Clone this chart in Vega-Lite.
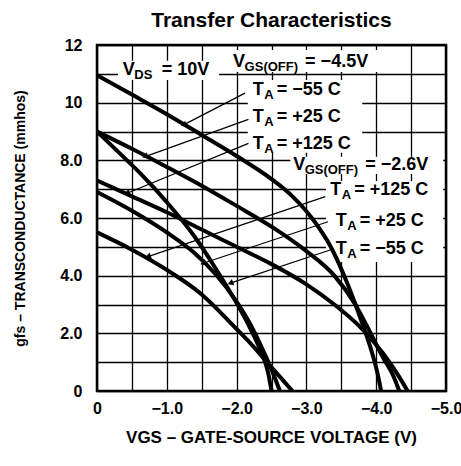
{
  "$schema": "https://vega.github.io/schema/vega-lite/v6.json",
  "autosize": "none",
  "width": 349,
  "height": 346,
  "padding": {"left": 97, "top": 45, "right": 15, "bottom": 75},
  "background": "white",
  "config": {
    "view": {"stroke": "black", "strokeWidth": 2.5},
    "font": "Liberation Sans, Arial, sans-serif"
  },
  "title": {
    "text": "Transfer Characteristics",
    "font": "Liberation Sans, Arial, sans-serif",
    "fontSize": 21,
    "fontWeight": "bold",
    "color": "black",
    "anchor": "middle",
    "frame": "group",
    "baseline": "top",
    "offset": 6
  },
  "datasets": {
    "curves": [
      {"s": "A1", "v": 0, "g": 10.95}, {"s": "A1", "v": -0.5, "g": 10.28}, {"s": "A1", "v": -1.0, "g": 9.6},
      {"s": "A1", "v": -1.5, "g": 8.88}, {"s": "A1", "v": -2.0, "g": 8.15}, {"s": "A1", "v": -2.5, "g": 7.35},
      {"s": "A1", "v": -2.8, "g": 6.75}, {"s": "A1", "v": -3.1, "g": 5.93}, {"s": "A1", "v": -3.36, "g": 4.95},
      {"s": "A1", "v": -3.6, "g": 3.65}, {"s": "A1", "v": -3.8, "g": 2.35}, {"s": "A1", "v": -3.95, "g": 1.25},
      {"s": "A1", "v": -4.02, "g": 0.6}, {"s": "A1", "v": -4.07, "g": 0},
      {"s": "A2", "v": 0, "g": 9.0}, {"s": "A2", "v": -0.5, "g": 8.4}, {"s": "A2", "v": -1.0, "g": 7.77},
      {"s": "A2", "v": -1.5, "g": 7.12}, {"s": "A2", "v": -2.0, "g": 6.42}, {"s": "A2", "v": -2.5, "g": 5.7},
      {"s": "A2", "v": -3.0, "g": 4.85}, {"s": "A2", "v": -3.4, "g": 4.0}, {"s": "A2", "v": -3.7, "g": 3.0},
      {"s": "A2", "v": -3.9, "g": 2.1}, {"s": "A2", "v": -4.1, "g": 1.15}, {"s": "A2", "v": -4.25, "g": 0.5},
      {"s": "A2", "v": -4.33, "g": 0},
      {"s": "A3", "v": 0, "g": 7.3}, {"s": "A3", "v": -0.5, "g": 6.75}, {"s": "A3", "v": -1.0, "g": 6.2},
      {"s": "A3", "v": -1.5, "g": 5.6}, {"s": "A3", "v": -2.0, "g": 5.0}, {"s": "A3", "v": -2.5, "g": 4.4},
      {"s": "A3", "v": -3.0, "g": 3.7}, {"s": "A3", "v": -3.4, "g": 3.0}, {"s": "A3", "v": -3.8, "g": 2.15},
      {"s": "A3", "v": -4.1, "g": 1.3}, {"s": "A3", "v": -4.3, "g": 0.6}, {"s": "A3", "v": -4.45, "g": 0},
      {"s": "B1", "v": 0, "g": 9.0}, {"s": "B1", "v": -0.3, "g": 8.3}, {"s": "B1", "v": -0.6, "g": 7.6},
      {"s": "B1", "v": -1.0, "g": 6.55}, {"s": "B1", "v": -1.4, "g": 5.35}, {"s": "B1", "v": -1.7, "g": 4.25},
      {"s": "B1", "v": -2.0, "g": 3.05}, {"s": "B1", "v": -2.2, "g": 2.15}, {"s": "B1", "v": -2.35, "g": 1.35},
      {"s": "B1", "v": -2.45, "g": 0.65}, {"s": "B1", "v": -2.5, "g": 0},
      {"s": "B2", "v": 0, "g": 6.9}, {"s": "B2", "v": -0.5, "g": 6.25}, {"s": "B2", "v": -1.0, "g": 5.5},
      {"s": "B2", "v": -1.4, "g": 4.78}, {"s": "B2", "v": -1.7, "g": 4.05}, {"s": "B2", "v": -2.0, "g": 3.1},
      {"s": "B2", "v": -2.2, "g": 2.3}, {"s": "B2", "v": -2.4, "g": 1.3}, {"s": "B2", "v": -2.5, "g": 0.75},
      {"s": "B2", "v": -2.62, "g": 0},
      {"s": "B3", "v": 0, "g": 5.5}, {"s": "B3", "v": -0.5, "g": 4.9}, {"s": "B3", "v": -1.0, "g": 4.2},
      {"s": "B3", "v": -1.5, "g": 3.35}, {"s": "B3", "v": -2.0, "g": 2.15}, {"s": "B3", "v": -2.2, "g": 1.65},
      {"s": "B3", "v": -2.4, "g": 1.1}, {"s": "B3", "v": -2.6, "g": 0.55}, {"s": "B3", "v": -2.8, "g": 0}
    ],
    "boxes": [
      {"v": -0.3, "v2": -1.75, "g": 11.45, "g2": 10.79},
      {"v": -1.92, "v2": -4.1, "g": 11.83, "g2": 11.06},
      {"v": -2.16, "v2": -3.8, "g": 10.79, "g2": 8.26},
      {"v": -2.77, "v2": -4.96, "g": 8.12, "g2": 7.53},
      {"v": -3.28, "v2": -4.96, "g": 7.28, "g2": 4.47}
    ],
    "arrows": [
      {"v": -2.12, "g": 10.33, "v2": -1.24, "g2": 9.23},
      {"v": -2.17, "g": 9.42, "v2": -0.69, "g2": 8.13},
      {"v": -2.17, "g": 8.59, "v2": -0.43, "g2": 6.86},
      {"v": -3.27, "g": 6.74, "v2": -0.73, "g2": 4.66},
      {"v": -3.31, "g": 5.87, "v2": -1.52, "g2": 4.43},
      {"v": -3.34, "g": 4.89, "v2": -1.91, "g2": 3.74}
    ],
    "heads": [
      {"v": -1.24, "g": 9.23},
      {"v": -0.69, "g": 8.13},
      {"v": -0.43, "g": 6.86},
      {"v": -0.73, "g": 4.66},
      {"v": -1.52, "g": 4.43},
      {"v": -1.91, "g": 3.74}
    ],
    "labels": [
      {"kind": "VDS", "v": -0.37, "g": 11.13, "main": "V", "sub": "DS", "rest": "= 10V"},
      {"kind": "VGS", "v": -1.95, "g": 11.41, "main": "V", "sub": "GS(OFF)", "rest": "=  −4.5V"},
      {"kind": "T", "v": -2.23, "g": 10.44, "main": "T", "sub": "A", "rest": "=  −55  C"},
      {"kind": "T", "v": -2.23, "g": 9.51, "main": "T", "sub": "A", "rest": "=  +25  C"},
      {"kind": "T", "v": -2.23, "g": 8.58, "main": "T", "sub": "A", "rest": "=  +125  C"},
      {"kind": "VGS", "v": -2.81, "g": 7.84, "main": "V", "sub": "GS(OFF)", "rest": "=  −2.6V"},
      {"kind": "T", "v": -3.34, "g": 6.97, "main": "T", "sub": "A", "rest": "=  +125  C"},
      {"kind": "T", "v": -3.42, "g": 5.9, "main": "T", "sub": "A", "rest": "=  +25  C"},
      {"kind": "T", "v": -3.42, "g": 4.92, "main": "T", "sub": "A", "rest": "=  −55  C"}
    ]
  },
  "encoding": {
    "x": {
      "field": "v", "type": "quantitative",
      "scale": {"domain": [0, -5], "nice": false, "zero": false},
      "axis": {
        "title": "VGS – GATE-SOURCE VOLTAGE (V)",
        "values": [0, -0.5, -1, -1.5, -2, -2.5, -3, -3.5, -4, -4.5, -5],
        "labelExpr": "datum.value == 0 ? '0' : (datum.value % 1 == 0 ? format(datum.value, '.1f') : '')",
        "grid": true, "gridColor": "black", "gridWidth": 1.3, "gridOpacity": 1,
        "ticks": false, "domain": false,
        "labelFontSize": 16, "labelFontWeight": "bold", "labelColor": "black", "labelPadding": 9, "labelDx": -2,
        "labelFlush": false, "labelOverlap": false,
        "titleFontSize": 17, "titleFontWeight": "bold", "titleColor": "black",
        "titleX": 174, "titleY": 46, "titleBaseline": "middle", "titleAlign": "center"
      }
    },
    "y": {
      "field": "g", "type": "quantitative",
      "scale": {"domain": [0, 12], "nice": false, "zero": false},
      "axis": {
        "title": "gfs – TRANSCONDUCTANCE (mmhos)",
        "values": [0, 1, 2, 3, 4, 5, 6, 7, 8, 9, 10, 11, 12],
        "labelExpr": "datum.value == 0 ? '0' : (datum.value % 2 != 0 ? '' : (datum.value >= 10 ? format(datum.value, 'd') : format(datum.value, '.1f')))",
        "grid": true, "gridColor": "black", "gridWidth": 1.3, "gridOpacity": 1,
        "ticks": false, "domain": false,
        "labelFontSize": 16, "labelFontWeight": "bold", "labelColor": "black", "labelPadding": 15, "labelDy": 2,
        "labelFlush": false, "labelOverlap": false,
        "titleFontSize": 14, "titleFontWeight": "bold", "titleColor": "black",
        "titleX": -77, "titleY": 173, "titleAngle": -90, "titleBaseline": "middle", "titleAlign": "center"
      }
    }
  },
  "layer": [
    {
      "data": {"name": "boxes"},
      "mark": {"type": "rect", "fill": "white", "stroke": null},
      "encoding": {"x2": {"field": "v2"}, "y2": {"field": "g2"}}
    },
    {
      "data": {"name": "curves"},
      "mark": {"type": "line", "color": "black", "strokeWidth": 4, "strokeCap": "butt", "interpolate": "monotone"},
      "encoding": {"detail": {"field": "s", "type": "nominal"}}
    },
    {
      "data": {"name": "arrows"},
      "mark": {"type": "rule", "color": "black", "strokeWidth": 1.2},
      "encoding": {"x2": {"field": "v2"}, "y2": {"field": "g2"}}
    },
    {
      "data": {"name": "heads"},
      "mark": {"type": "point", "shape": "triangle-left", "filled": true, "color": "black", "size": 45, "angle": -20, "opacity": 1}
    },
    {
      "data": {"name": "labels"},
      "mark": {"type": "text", "align": "left", "baseline": "middle", "fontSize": 18, "fontWeight": "bold", "color": "black"},
      "encoding": {"text": {"field": "main"}}
    },
    {
      "data": {"name": "labels"},
      "mark": {"type": "text", "align": "left", "baseline": "middle", "fontSize": 13, "fontWeight": "bold", "color": "black", "dx": 11.5, "dy": 5},
      "encoding": {"text": {"field": "sub"}}
    },
    {
      "data": {"name": "labels"},
      "transform": [{"filter": "datum.kind == 'T'"}],
      "mark": {"type": "text", "align": "left", "baseline": "middle", "fontSize": 18, "fontWeight": "bold", "color": "black", "dx": 24},
      "encoding": {"text": {"field": "rest"}}
    },
    {
      "data": {"name": "labels"},
      "transform": [{"filter": "datum.kind == 'VDS'"}],
      "mark": {"type": "text", "align": "left", "baseline": "middle", "fontSize": 18, "fontWeight": "bold", "color": "black", "dx": 39},
      "encoding": {"text": {"field": "rest"}}
    },
    {
      "data": {"name": "labels"},
      "transform": [{"filter": "datum.kind == 'VGS'"}],
      "mark": {"type": "text", "align": "left", "baseline": "middle", "fontSize": 18, "fontWeight": "bold", "color": "black", "dx": 72},
      "encoding": {"text": {"field": "rest"}}
    }
  ]
}
